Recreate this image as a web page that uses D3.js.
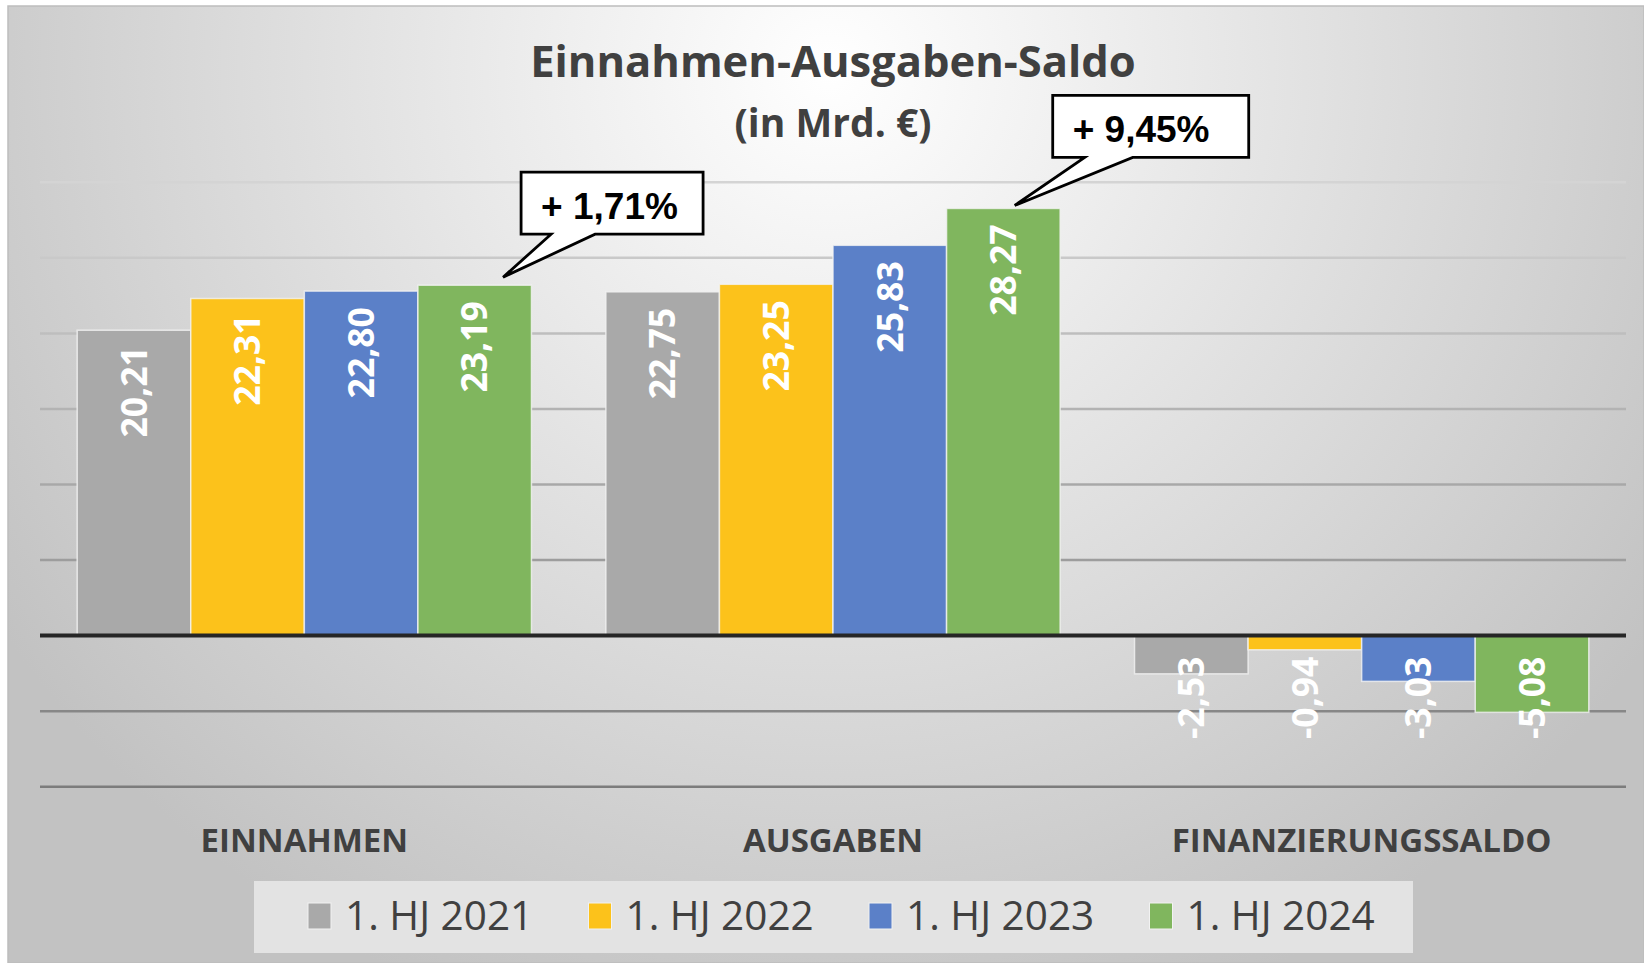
<!DOCTYPE html>
<html>
<head>
<meta charset="utf-8">
<script src="https://cdn.jsdelivr.net/npm/d3@7"></script>
<style>
  body { margin: 0; background: #fff; }
  svg { display: block; }
</style>
</head>
<body>
<div id="viz"></div>
<script>
/* global d3 */
(function saldoChart() {
  const svgWidth = 1644;
  const svgHeight = 963;

  const categories = ['EINNAHMEN', 'AUSGABEN', 'FINANZIERUNGSSALDO'];
  const seriesNames = ['1. HJ 2021', '1. HJ 2022', '1. HJ 2023', '1. HJ 2024'];
  const hj2021 = [20.21, 22.75, -2.53];
  const hj2022 = [22.31, 23.25, -0.94];
  const hj2023 = [22.80, 25.83, -3.03];
  const hj2024 = [23.19, 28.27, -5.08];
  const yTicks = [-10, -5, 0, 5, 10, 15, 20, 25, 30];
  const callouts = [
    { category: 'EINNAHMEN', label: '+ 1,71%' },
    { category: 'AUSGABEN', label: '+ 9,45%' },
  ];

  const seriesColors = ['#a9a9a9', '#fcc21b', '#5b80c8', '#80b65e'];
  const textColor = '#404040';
  const axisColor = '#262626';

  // placement of the two speech bubbles, relative to the bar they point at
  const calloutLayout = [
    { along: 0.75, lift: 8, dx: 18, dy: 105, w: 182, h: 62, base: [30, 74] },
    { along: 0.6, lift: 3, dx: 38, dy: 110, w: 196, h: 62, base: [32, 80] },
  ];

  const series = [hj2021, hj2022, hj2023, hj2024].map((vals, i) => ({
    name: seriesNames[i],
    color: seriesColors[i],
    values: vals,
  }));

  const de = d3.formatLocale({ decimal: ',', thousands: '.', grouping: [3], currency: ['', ' €'], minus: '-' });
  const fmt = de.format('.2f');

  const plot = { left: 40, right: 1626, top: 182.3, bottom: 786.7 };

  const x0 = d3.scaleBand()
    .domain(categories)
    .range([plot.left, plot.right])
    .paddingInner(0.1407)
    .paddingOuter(0.1407 / 2);

  const x1 = d3.scaleBand()
    .domain(seriesNames)
    .range([0, x0.bandwidth()]);

  const y = d3.scaleLinear()
    .domain([-10, 30])
    .range([plot.bottom, plot.top]);

  const gridColor = d3.scaleLinear()
    .domain([30, -10])
    .range(['#d4d4d4', '#7c7c7c']);

  const svg = d3.select('#viz').append('svg')
    .attr('width', svgWidth)
    .attr('height', svgHeight);

  const defs = svg.append('defs');
  const bg = defs.append('radialGradient')
    .attr('id', 'bg')
    .attr('gradientUnits', 'userSpaceOnUse')
    .attr('cx', 830)
    .attr('cy', 70)
    .attr('r', 1000);
  bg.append('stop').attr('offset', 0).attr('stop-color', '#ffffff');
  bg.append('stop').attr('offset', 1).attr('stop-color', '#c2c2c2');

  svg.append('rect')
    .attr('x', 8)
    .attr('y', 6)
    .attr('width', svgWidth - 8)
    .attr('height', svgHeight - 6)
    .attr('fill', 'url(#bg)')
    .attr('stroke', '#bdbdbd')
    .attr('stroke-width', 1.5);

  // Title
  svg.append('text')
    .text('Einnahmen-Ausgaben-Saldo')
    .attr('x', 833)
    .attr('y', 77)
    .attr('text-anchor', 'middle')
    .style('font-family', '"Open Sans", sans-serif')
    .style('font-weight', 700)
    .style('font-size', '43.5px')
    .style('fill', textColor);

  svg.append('text')
    .text('(in Mrd. €)')
    .attr('x', 833)
    .attr('y', 137)
    .attr('text-anchor', 'middle')
    .style('font-family', '"Open Sans", sans-serif')
    .style('font-weight', 700)
    .style('font-size', '39px')
    .style('fill', textColor);

  // Gridlines
  svg.append('g')
    .attr('class', 'grid')
    .selectAll('line')
    .data(yTicks.filter(t => t !== 0))
    .enter()
    .append('line')
    .attr('x1', plot.left)
    .attr('x2', plot.right)
    .attr('y1', d => y(d))
    .attr('y2', d => y(d))
    .attr('stroke', d => gridColor(d))
    .attr('stroke-width', 2.5);

  // Bars
  const groups = svg.append('g')
    .attr('class', 'bars')
    .selectAll('g')
    .data(series)
    .enter()
    .append('g')
    .attr('fill', d => d.color);

  groups.selectAll('rect')
    .data(s => s.values.map((v, i) => ({ series: s.name, category: categories[i], value: v })))
    .enter()
    .append('rect')
    .attr('x', d => x0(d.category) + x1(d.series))
    .attr('y', d => y(Math.max(0, d.value)))
    .attr('width', x1.bandwidth())
    .attr('height', d => Math.abs(y(d.value) - y(0)))
    .attr('stroke', '#f2f2f2')
    .attr('stroke-opacity', 0.8)
    .attr('stroke-width', 1.5);

  // Zero axis
  svg.append('line')
    .attr('x1', plot.left)
    .attr('x2', plot.right)
    .attr('y1', y(0))
    .attr('y2', y(0))
    .attr('stroke', axisColor)
    .attr('stroke-width', 4);

  // Value labels
  groups.selectAll('text')
    .data(s => s.values.map((v, i) => ({ series: s.name, category: categories[i], value: v })))
    .enter()
    .append('text')
    .text(d => fmt(d.value))
    .attr('transform', (d) => {
      const cx = x0(d.category) + x1(d.series) + x1.bandwidth() / 2;
      const ty = d.value >= 0 ? y(d.value) + 16 : y(0) + 21;
      return `translate(${cx}, ${ty}) rotate(-90)`;
    })
    .attr('dy', '0.36em')
    .attr('text-anchor', 'end')
    .style('font-family', '"Open Sans", sans-serif')
    .style('font-weight', 700)
    .style('font-size', '35.5px')
    .style('fill', '#ffffff');

  // Category labels
  svg.append('g')
    .attr('class', 'categories')
    .selectAll('text')
    .data(categories)
    .enter()
    .append('text')
    .text(d => d)
    .attr('x', d => x0(d) + x0.bandwidth() / 2)
    .attr('y', 852)
    .attr('text-anchor', 'middle')
    .style('font-family', '"Open Sans", sans-serif')
    .style('font-weight', 700)
    .style('font-size', '33px')
    .style('fill', textColor);

  // Callouts
  const lastSeries = series[series.length - 1];
  callouts.forEach((c, i) => {
    const lay = calloutLayout[i];
    const value = lastSeries.values[categories.indexOf(c.category)];
    const tipX = x0(c.category) + x1(lastSeries.name) + x1.bandwidth() * lay.along;
    const tipY = y(value) - lay.lift;
    const bx = tipX + lay.dx;
    const by = tipY - lay.dy;
    const path = d3.path();
    path.moveTo(bx, by);
    path.lineTo(bx + lay.w, by);
    path.lineTo(bx + lay.w, by + lay.h);
    path.lineTo(bx + lay.base[1], by + lay.h);
    path.lineTo(tipX, tipY);
    path.lineTo(bx + lay.base[0], by + lay.h);
    path.lineTo(bx, by + lay.h);
    path.closePath();

    svg.append('path')
      .attr('d', path.toString())
      .attr('fill', '#ffffff')
      .attr('stroke', '#000000')
      .attr('stroke-width', 2.8)
      .attr('stroke-linejoin', 'miter');

    svg.append('text')
      .text(c.label)
      .attr('x', bx + 20)
      .attr('y', by + 47)
      .style('font-family', '"Liberation Sans", Arial, sans-serif')
      .style('font-weight', 700)
      .style('font-size', '37px')
      .style('fill', '#000000');
  });

  // Legend
  svg.append('rect')
    .attr('x', 254)
    .attr('y', 881)
    .attr('width', 1159)
    .attr('height', 72)
    .attr('fill', '#e3e3e3');

  const legendItems = svg.append('g')
    .attr('class', 'legend')
    .selectAll('g')
    .data(series)
    .enter()
    .append('g')
    .attr('transform', (d, i) => `translate(${308 + i * 280.5}, 0)`);

  legendItems.append('rect')
    .attr('x', 0)
    .attr('y', 903)
    .attr('width', 23)
    .attr('height', 26)
    .attr('fill', d => d.color)
    .attr('stroke', '#f2f2f2')
    .attr('stroke-width', 1);

  legendItems.append('text')
    .text(d => d.name)
    .attr('x', 37)
    .attr('y', 930)
    .style('font-family', '"Open Sans", sans-serif')
    .style('font-size', '40.5px')
    .style('fill', textColor);
}());
</script>
</body>
</html>
